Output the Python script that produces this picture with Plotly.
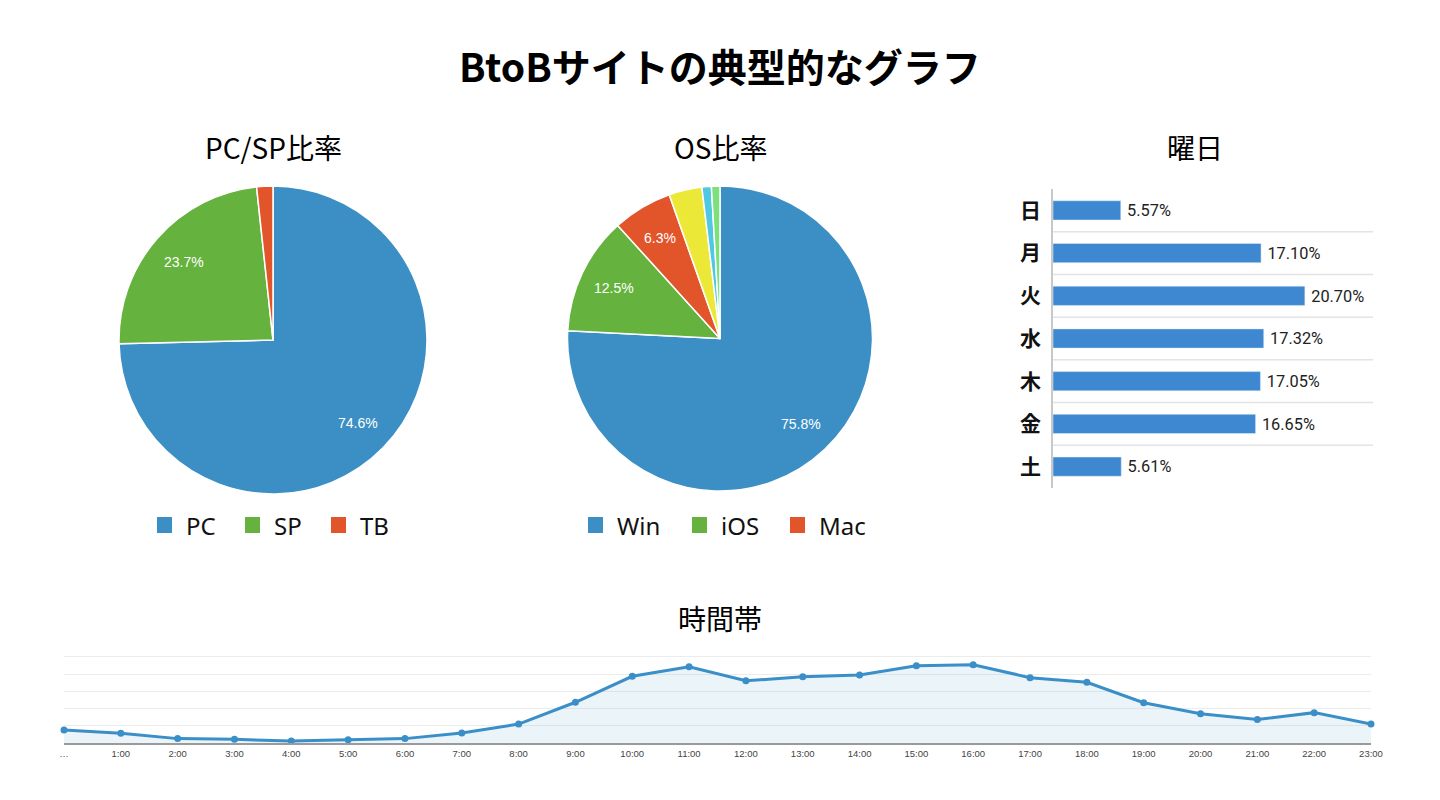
import math
import plotly.graph_objects as go

# ---------------- data ----------------
device_labels = ["PC", "SP", "TB"]
device_values = [74.6, 23.7, 1.7]
device_colors = ["#3b8fc5", "#65b23e", "#e2542a"]

os_labels = ["Win", "iOS", "Mac", "Android", "Other1", "Other2"]
os_values = [75.8, 12.5, 6.3, 3.5, 1.0, 0.9]
os_colors = ["#3b8fc5", "#65b23e", "#e2542a", "#ebe837", "#4fc8e2", "#7ee07a"]
os_legend_count = 3

weekday_labels = ["日", "月", "火", "水", "木", "金", "土"]
weekday_values = [5.57, 17.10, 20.70, 17.32, 17.05, 16.65, 5.61]

hour_labels = ["…"] + [f"{h}:00" for h in range(1, 24)]
hour_values = [77, 58, 27, 23, 13, 21, 27, 59, 111, 237, 387, 442,
               361, 384, 394, 448, 454, 379, 352, 234, 171, 138, 177, 111]

W, H = 1440, 800
JP = "Noto Sans CJK JP"


def px(x):
    return x / W


def py(y):
    return 1 - y / H


fig = go.Figure()
annotations = []
shapes = []

# ---------------- pies ----------------
def add_pie(labels, values, colors, cx, cy, r):
    fig.add_trace(go.Pie(
        labels=labels, values=values, sort=False, direction="clockwise",
        rotation=0, marker=dict(colors=colors, line=dict(color="white", width=1.5)),
        textinfo="none",
        domain=dict(x=[px(cx - r), px(cx + r)], y=[py(cy + r), py(cy - r)]),
        showlegend=False, hoverinfo="label+percent",
    ))
    total = sum(values)
    cum = 0.0
    for v in values:
        frac = v / total
        mid = (cum + frac / 2) * 2 * math.pi
        cum += frac
        if frac * 100 < 5:
            continue
        tx = cx + 0.77 * r * math.sin(mid)
        ty = cy - 0.77 * r * math.cos(mid)
        annotations.append(dict(text=f"{v:.1f}%", x=px(tx), y=py(ty), xref="paper", yref="paper",
                                xanchor="center", yanchor="middle", showarrow=False,
                                font=dict(family="Liberation Sans, Arial", size=14, color="white")))


add_pie(device_labels, device_values, device_colors, 273, 340, 154)
add_pie(os_labels, os_values, os_colors, 720, 338.5, 152.5)

# ---------------- weekday bars ----------------
fig.add_trace(go.Bar(
    y=weekday_labels, x=weekday_values, orientation="h",
    marker=dict(color="#3d88d1"), width=0.45,
    texttemplate="\u2009%{x:.2f}%", textposition="outside", cliponaxis=False,
    textfont=dict(family="Roboto", size=17, color="#222222"),
    xaxis="x", yaxis="y", showlegend=False,
))

# ---------------- hourly line ----------------
fig.add_trace(go.Scatter(
    x=hour_labels, y=hour_values, mode="lines+markers",
    line=dict(color="#3a8fc8", width=3),
    marker=dict(color="#3a8fc8", size=7),
    fill="tozeroy", fillcolor="rgba(58,143,200,0.10)",
    cliponaxis=False, xaxis="x2", yaxis="y2", showlegend=False,
))

# gridlines between weekday categories
for i in range(len(weekday_labels) - 1):
    shapes.append(dict(type="line", xref="x domain", yref="y",
                       x0=0, x1=1, y0=i + 0.5, y1=i + 0.5,
                       line=dict(color="#e3e3e3", width=1.5), layer="below"))


# custom legends (only first three items, as in the original)
def legend(items, colors, xs):
    for lab, col, x in zip(items, colors, xs):
        shapes.append(dict(type="rect", xref="paper", yref="paper",
                           x0=px(x), x1=px(x + 15), y0=py(533), y1=py(517),
                           fillcolor=col, line=dict(width=0)))
        annotations.append(dict(text=lab, x=px(x + 27), y=py(525), xref="paper", yref="paper",
                                xanchor="left", yanchor="middle", showarrow=False,
                                font=dict(family="Noto Sans", size=24, color="#111111")))


legend(device_labels, device_colors, [157, 245, 331])
legend(os_labels[:os_legend_count], os_colors[:os_legend_count], [588, 692, 790])

titles = [
    ("BtoBサイトの典型的なグラフ", 720, 65, 39, 700),
    ("PC/SP比率", 273, 147, 28, 400),
    ("OS比率", 720, 147, 28, 400),
    ("曜日", 1195, 147, 28, 400),
    ("時間帯", 720, 618, 28, 400),
]
for t, x, y, s, wgt in titles:
    annotations.append(dict(text=t, x=px(x), y=py(y), xref="paper", yref="paper",
                            xanchor="center", yanchor="middle", showarrow=False,
                            font=dict(family=JP, size=s, color="#000000", weight=wgt)))

fig.update_layout(
    width=W, height=H, margin=dict(l=0, r=0, t=0, b=0, autoexpand=False),
    paper_bgcolor="white", plot_bgcolor="white",
    shapes=shapes, annotations=annotations,
    xaxis=dict(domain=[px(1053), px(1373)], range=[0, 26.3], showgrid=False, automargin=False,
               showticklabels=False, zeroline=False, showline=False, fixedrange=True),
    yaxis=dict(domain=[py(488), py(189)], autorange="reversed", showgrid=False, automargin=False,
               showline=True, linecolor="#c8c8c8", linewidth=1.5, anchor="x",
               ticks="", ticklabelstandoff=6,
               tickfont=dict(family=JP, size=21, color="#111111", weight=700)),
    xaxis2=dict(domain=[px(64), px(1371)], range=[0, 23], anchor="y2", automargin=False,
                showgrid=False, showline=True, linecolor="#9a9a9a", linewidth=2,
                ticks="", tickfont=dict(family="Liberation Sans Narrow, Arial Narrow, Liberation Sans",
                                        size=9.5, color="#444444")),
    yaxis2=dict(domain=[py(743.3), py(650)], range=[0, 538.7], anchor="x2", automargin=False,
                showgrid=True, gridcolor="#ececec", gridwidth=1, dtick=100,
                zeroline=False, showticklabels=False, ticks=""),
)

fig.write_html("out.html")
